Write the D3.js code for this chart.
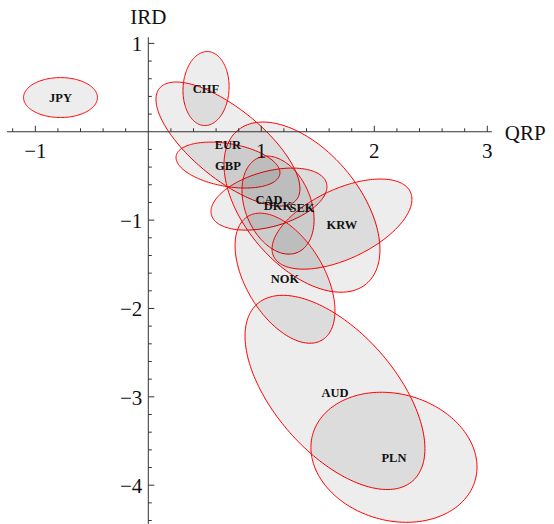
<!DOCTYPE html>
<html><head><meta charset="utf-8">
<script src="https://cdn.jsdelivr.net/npm/d3@7"></script>
<style>body{margin:0;background:#fff}svg{display:block}</style>
</head><body>
<script>
// ---- data ----
const currencies = ["JPY","CHF","EUR","GBP","CAD","DKK","SEK","KRW","NOK","AUD","PLN"];
const qrp    = [-0.777, 0.511, 0.705, 0.705, 1.068, 1.148, 1.360, 1.714, 1.210, 1.652, 2.174];
const ird    = [ 0.387, 0.489,-0.139,-0.377,-0.762,-0.830,-0.853,-1.045,-1.657,-2.950,-3.684];
const sdQrp  = [ 0.327, 0.204, 0.637, 0.460, 0.513, 0.319, 0.690, 0.619, 0.442, 0.796, 0.735];
const sdIrd  = [ 0.226, 0.419, 0.702, 0.260, 0.351, 0.555, 0.963, 0.510, 0.736, 1.099, 0.736];
const corr   = [ 0.00,  0.05, -0.72, -0.33,  0.40, -0.30, -0.50,  0.55, -0.50, -0.58, -0.15];
const xMajorTicks = [-1, 1, 2, 3];
const yMajorTicks = [1, -1, -2, -3, -4];
const xTickLabels = ["\u22121", "1", "2", "3"];
const yTickLabels = ["1", "\u22121", "\u22122", "\u22123", "\u22124"];

// ---- layout ----
const W = 554, H = 524;
const x = d3.scaleLinear().domain([-1, 3]).range([35.3, 487.3]);
const y = d3.scaleLinear().domain([1, -4]).range([43.4, 485.2]);
const svg = d3.select("body").append("svg").attr("width", W).attr("height", H);
const font = "'Liberation Serif','Times New Roman',serif";

// ellipses
const g = svg.append("g");
const line = d3.line().x(d => x(d[0])).y(d => y(d[1])).curve(d3.curveLinearClosed);
currencies.forEach((c, i) => {
  const pts = d3.range(0, 180).map(k => {
    const t = k / 180 * 2 * Math.PI;
    const r = corr[i];
    return [qrp[i] + sdQrp[i] * Math.cos(t),
            ird[i] + sdIrd[i] * (r * Math.cos(t) + Math.sqrt(1 - r * r) * Math.sin(t))];
  });
  g.append("path").attr("d", line(pts))
    .attr("fill", "#000").attr("fill-opacity", 0.072)
    .attr("stroke", "#ff0000").attr("stroke-width", 1);
});

// axes
const ax = svg.append("g").attr("stroke", "#333").attr("stroke-width", 1);
const x0 = x(0), y0 = y(0);
ax.append("line").attr("x1", x(-1.25)).attr("x2", x(3.04)).attr("y1", y0).attr("y2", y0);
ax.append("line").attr("x1", x0).attr("x2", x0).attr("y1", y(1.07)).attr("y2", H);
const xMinor = d3.range(-6, 16).map(k => k * 0.2).filter(v => Math.abs(v - Math.round(v)) > 1e-6);
const yMinor = d3.range(-22, 6).map(k => k * 0.2).filter(v => Math.abs(v - Math.round(v)) > 1e-6);
ax.selectAll(".xmaj").data(xMajorTicks).join("line")
  .attr("x1", d => x(d)).attr("x2", d => x(d)).attr("y1", y0).attr("y2", y0 - 6);
ax.selectAll(".xmin").data(xMinor).join("line")
  .attr("x1", d => x(d)).attr("x2", d => x(d)).attr("y1", y0).attr("y2", y0 - 3.5);
ax.selectAll(".ymaj").data(yMajorTicks).join("line")
  .attr("y1", d => y(d)).attr("y2", d => y(d)).attr("x1", x0).attr("x2", x0 + 6);
ax.selectAll(".ymin").data(yMinor).join("line")
  .attr("y1", d => y(d)).attr("y2", d => y(d)).attr("x1", x0).attr("x2", x0 + 3.5);

// tick labels
svg.selectAll(".xl").data(xMajorTicks).join("text")
  .attr("x", d => x(d)).attr("y", y0 + 26).attr("text-anchor", "middle")
  .attr("font-family", font).attr("font-size", 21).attr("fill", "#111")
  .text((d, i) => xTickLabels[i]);
svg.selectAll(".yl").data(yMajorTicks).join("text")
  .attr("x", x0 - 6).attr("y", d => y(d) + 8).attr("text-anchor", "end")
  .attr("font-family", font).attr("font-size", 21).attr("fill", "#111")
  .text((d, i) => yTickLabels[i]);

// axis titles
svg.append("text").attr("x", x0).attr("y", 24).attr("text-anchor", "middle")
  .attr("font-family", font).attr("font-size", 21).attr("fill", "#111").text("IRD");
svg.append("text").attr("x", x(3.04) + 13).attr("y", y0 + 8).attr("text-anchor", "start")
  .attr("font-family", font).attr("font-size", 21).attr("fill", "#111").text("QRP");

// currency labels
svg.selectAll(".cl").data(currencies).join("text")
  .attr("x", (d, i) => x(qrp[i])).attr("y", (d, i) => y(ird[i]) + 4.5)
  .attr("text-anchor", "middle").attr("font-family", font).attr("font-size", 12.5)
  .attr("font-weight", "bold").attr("fill", "#111").text(d => d);
</script>
</body></html>
